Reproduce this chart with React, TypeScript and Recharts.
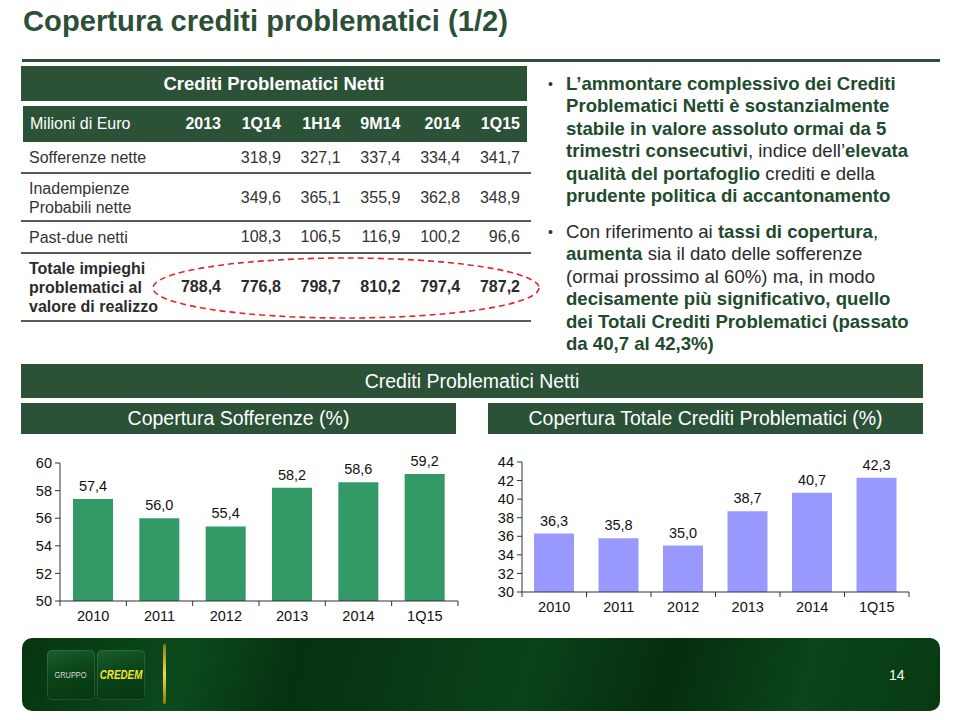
import { BarChart, Bar, XAxis, YAxis, LabelList } from 'recharts';

const chartYears = ['2010', '2011', '2012', '2013', '2014', '1Q15'];
const sofferenzeCoverage = [57.4, 56.0, 55.4, 58.2, 58.6, 59.2];
const totalCoverage = [36.3, 35.8, 35.0, 38.7, 40.7, 42.3];
const sofferenzeTicks = [50, 52, 54, 56, 58, 60];
const totalTicks = [30, 32, 34, 36, 38, 40, 42, 44];

const tableColumns = ['2013', '1Q14', '1H14', '9M14', '2014', '1Q15'];
const sofferenzeNette = [null, 318.9, 327.1, 337.4, 334.4, 341.7];
const inadempienzeProbabili = [null, 349.6, 365.1, 355.9, 362.8, 348.9];
const pastDueNetti = [null, 108.3, 106.5, 116.9, 100.2, 96.6];
const totaleImpieghi = [788.4, 776.8, 798.7, 810.2, 797.4, 787.2];

const GREEN = '#2b5137';
const TEXT_GREEN = '#214a2e';
const SANS = '"Liberation Sans", Arial, Helvetica, sans-serif';

const fmt = (v: number | null) => (v == null ? '' : v.toFixed(1).replace('.', ','));

// x-axis tick drawn Excel style: tick marks on category boundaries
function BoundaryTick(props: any) {
  const { x, y, payload, index } = props;
  const half = payload?.offset ?? 32;
  return (
    <g>
      <line x1={x - half} y1={y} x2={x - half} y2={y + 5} stroke="#333" />
      {index === chartYears.length - 1 && (
        <line x1={x + half} y1={y} x2={x + half} y2={y + 5} stroke="#333" />
      )}
      <text x={x} y={y + 20} textAnchor="middle" fill="#111" fontSize={14.5} fontFamily={SANS}>
        {payload.value}
      </text>
    </g>
  );
}

function CoverageChart({
  values,
  ticks,
  color,
  width,
  height,
  margin,
  yWidth,
}: {
  values: number[];
  ticks: number[];
  color: string;
  width: number;
  height: number;
  margin: { top: number; right: number; left: number; bottom: number };
  yWidth: number;
}) {
  const data = chartYears.map((year, i) => ({ year, value: values[i] }));
  return (
    <BarChart width={width} height={height} data={data} margin={margin}>
      <XAxis
        dataKey="year"
        tickLine={false}
        tickSize={0}
        tickMargin={0}
        height={30}
        axisLine={{ stroke: '#333' }}
        tick={<BoundaryTick />}
        interval={0}
      />
      <YAxis
        type="number"
        domain={[ticks[0], ticks[ticks.length - 1]]}
        ticks={ticks}
        interval={0}
        width={yWidth}
        allowDataOverflow
        axisLine={{ stroke: '#333' }}
        tickLine={{ stroke: '#333' }}
        tickSize={5}
        tickMargin={3}
        tick={{ fill: '#111', fontSize: 14.5, fontFamily: SANS }}
      />
      <Bar dataKey="value" fill={color} barSize={40} isAnimationActive={false}>
        <LabelList
          dataKey="value"
          position="top"
          offset={8}
          formatter={(v: any) => fmt(Number(v))}
          style={{ fill: '#111', fontSize: 14.5, fontFamily: SANS }}
        />
      </Bar>
    </BarChart>
  );
}

function TableRow({
  top,
  height,
  label,
  values,
  bold,
}: {
  top: number;
  height: number;
  label: React.ReactNode;
  values: (number | null)[];
  bold?: boolean;
}) {
  const color = bold ? '#2b2b2b' : '#333';
  return (
    <div style={{ position: 'absolute', left: 0, top, width: 540, height }}>
      <div
        style={{
          position: 'absolute',
          left: 29,
          top: 0,
          height,
          display: 'flex',
          alignItems: 'center',
          fontSize: 16,
          lineHeight: '19px',
          fontWeight: bold ? 700 : 400,
          color,
        }}
      >
        {label}
      </div>
      {values.map((v, i) => (
        <div
          key={i}
          style={{
            position: 'absolute',
            left: 161 + i * 59.8,
            width: 60,
            top: 0,
            height,
            display: 'flex',
            alignItems: 'center',
            justifyContent: 'flex-end',
            fontSize: 16,
            fontWeight: bold ? 700 : 400,
            color,
          }}
        >
          {fmt(v)}
        </div>
      ))}
    </div>
  );
}

const hLine = (top: number) => (
  <div style={{ position: 'absolute', left: 21, top, width: 510, height: 2, background: '#595959' }} />
);

const headerBox = (left: number, top: number, width: number, height: number, text: string) => (
  <div
    style={{
      position: 'absolute',
      left,
      top,
      width,
      height,
      background: GREEN,
      color: '#fff',
      fontSize: 19.5,
      display: 'flex',
      alignItems: 'center',
      justifyContent: 'center',
    }}
  >
    {text}
  </div>
);

const logoBox = (left: number): React.CSSProperties => ({
  position: 'absolute',
  left,
  top: 12,
  width: 48,
  height: 50,
  borderRadius: 5,
  background: 'linear-gradient(165deg, #1a5e2a 0%, #0b4419 45%, #063610 100%)',
  boxShadow: 'inset 0 0 0 1px rgba(120,170,120,0.25)',
  display: 'flex',
  alignItems: 'center',
  justifyContent: 'center',
});

export default function App() {
  const B = (t: string) => <b style={{ color: TEXT_GREEN }}>{t}</b>;
  return (
    <div
      style={{
        position: 'absolute',
        left: 0,
        top: 0,
        width: 960,
        height: 720,
        background: '#fff',
        fontFamily: SANS,
        overflow: 'hidden',
      }}
    >
      {/* title */}
      <div
        style={{
          position: 'absolute',
          left: 23,
          top: 5,
          fontSize: 29.2,
          fontWeight: 700,
          color: '#2c4f37',
          whiteSpace: 'nowrap',
        }}
      >
        Copertura crediti problematici (1/2)
      </div>
      <div style={{ position: 'absolute', left: 22, top: 59, width: 918, height: 3, background: '#2c4f37' }} />

      {/* table */}
      <div
        style={{
          position: 'absolute',
          left: 21,
          top: 66,
          width: 506,
          height: 35,
          background: GREEN,
          color: '#fff',
          fontSize: 18.5,
          fontWeight: 700,
          display: 'flex',
          alignItems: 'center',
          justifyContent: 'center',
        }}
      >
        Crediti Problematici Netti
      </div>
      <div style={{ position: 'absolute', left: 23, top: 106, width: 504, height: 36, background: GREEN }} />
      <div
        style={{
          position: 'absolute',
          left: 30,
          top: 106,
          height: 36,
          display: 'flex',
          alignItems: 'center',
          color: '#fff',
          fontSize: 16,
        }}
      >
        Milioni di Euro
      </div>
      {tableColumns.map((c, i) => (
        <div
          key={c}
          style={{
            position: 'absolute',
            left: 161 + i * 59.8,
            width: 60,
            top: 106,
            height: 36,
            display: 'flex',
            alignItems: 'center',
            justifyContent: 'flex-end',
            color: '#fff',
            fontSize: 16,
            fontWeight: 700,
          }}
        >
          {c}
        </div>
      ))}
      <TableRow top={142} height={31} label="Sofferenze nette" values={sofferenzeNette} />
      {hLine(172)}
      <TableRow
        top={174}
        height={47}
        label={
          <span>
            Inadempienze
            <br />
            Probabili nette
          </span>
        }
        values={inadempienzeProbabili}
      />
      {hLine(220)}
      <TableRow top={222} height={30} label="Past-due netti" values={pastDueNetti} />
      {hLine(252)}
      <TableRow
        top={254}
        height={66}
        bold
        label={
          <span>
            Totale impieghi
            <br />
            problematici al
            <br />
            valore di realizzo
          </span>
        }
        values={totaleImpieghi}
      />
      {hLine(320)}
      <svg style={{ position: 'absolute', left: 0, top: 0 }} width={960} height={400}>
        <ellipse cx={346} cy={288} rx={193} ry={30} fill="none" stroke="#e02828" strokeWidth={1.6} strokeDasharray="6 4" />
      </svg>

      {/* bullets */}
      <div
        style={{
          position: 'absolute',
          left: 566,
          top: 73,
          fontSize: 18.6,
          lineHeight: '22.4px',
          color: '#2a2a2a',
          whiteSpace: 'nowrap',
        }}
      >
        <div style={{ position: 'relative' }}>
          <span style={{ position: 'absolute', left: -18, top: 0, fontSize: 14, color: '#333' }}>•</span>
          {B('L’ammontare complessivo dei Crediti')}
          <br />
          {B('Problematici Netti è sostanzialmente')}
          <br />
          {B('stabile in valore assoluto ormai da 5')}
          <br />
          {B('trimestri consecutivi')}, indice dell’{B('elevata')}
          <br />
          {B('qualità del portafoglio')} crediti e della
          <br />
          {B('prudente politica di accantonamento')}
        </div>
        <div style={{ position: 'relative', marginTop: 13.6 }}>
          <span style={{ position: 'absolute', left: -18, top: 0, fontSize: 14, color: '#333' }}>•</span>
          Con riferimento ai {B('tassi di copertura')},
          <br />
          {B('aumenta')} sia il dato delle sofferenze
          <br />
          (ormai prossimo al 60%) ma, in modo
          <br />
          {B('decisamente più significativo, quello')}
          <br />
          {B('dei Totali Crediti Problematici (passato')}
          <br />
          {B('da 40,7 al 42,3%)')}
        </div>
      </div>

      {/* chart headers */}
      {headerBox(21, 364, 902, 34, 'Crediti Problematici Netti')}
      {headerBox(21, 403, 435, 31, 'Copertura Sofferenze (%)')}
      {headerBox(488, 403, 435, 31, 'Copertura Totale Crediti Problematici (%)')}

      {/* charts */}
      <div style={{ position: 'absolute', left: 0, top: 450 }}>
        <CoverageChart
          values={sofferenzeCoverage}
          ticks={sofferenzeTicks}
          color="#339966"
          width={480}
          height={190}
          margin={{ top: 13, right: 22, left: 0, bottom: 9 }}
          yWidth={60}
        />
      </div>
      <div style={{ position: 'absolute', left: 480, top: 450 }}>
        <CoverageChart
          values={totalCoverage}
          ticks={totalTicks}
          color="#9999ff"
          width={480}
          height={180}
          margin={{ top: 12, right: 51, left: 0, bottom: 8 }}
          yWidth={42}
        />
      </div>

      {/* footer */}
      <div
        style={{
          position: 'absolute',
          left: 22,
          top: 638,
          width: 918,
          height: 73,
          borderRadius: 10,
          background:
            'linear-gradient(105deg, #063510 0%, #0c4a1c 18%, #05320f 30%, #0a4219 55%, #042e0d 70%, #0b4519 85%, #073a12 100%)',
        }}
      >
        <div style={{ ...logoBox(25), color: '#d8d8d8' }}>
          <span style={{ display: 'inline-block', fontSize: 9, transform: 'scaleX(0.82)' }}>GRUPPO</span>
        </div>
        <div style={{ ...logoBox(75), color: '#f3e23a' }}>
          <span
            style={{
              display: 'inline-block',
              fontSize: 12,
              fontWeight: 700,
              fontStyle: 'italic',
              transform: 'scaleX(0.82)',
            }}
          >
            CREDEM
          </span>
        </div>
        <div
          style={{
            position: 'absolute',
            left: 141,
            top: 6,
            width: 3,
            height: 60,
            borderRadius: 2,
            background: 'linear-gradient(180deg, #8a7a10, #f2d84a 50%, #8a7a10)',
          }}
        />
        <div
          style={{
            position: 'absolute',
            left: 867,
            top: 29,
            color: '#fff',
            fontSize: 14,
          }}
        >
          14
        </div>
      </div>
    </div>
  );
}
